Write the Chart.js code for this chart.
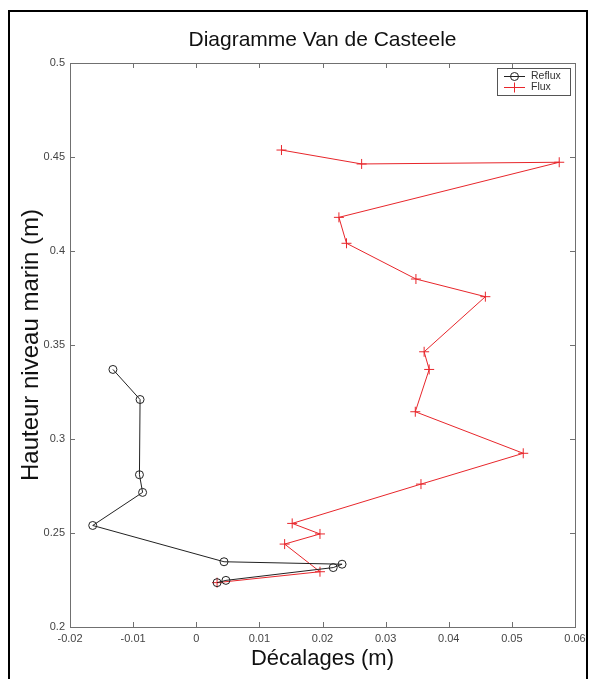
<!DOCTYPE html>
<html>
<head>
<meta charset="utf-8">
<script src="https://cdn.jsdelivr.net/npm/chart.js@4/dist/chart.umd.min.js"></script>
<style>
  html, body { margin: 0; padding: 0; background: #fff; }
  #wrap { width: 595px; height: 679px; }
</style>
</head>
<body>
<div id="wrap"><canvas id="chart" width="595" height="679"></canvas></div>
<script>
// values (x = décalage, y = hauteur)
const refluxX = [-0.0132, -0.0089, -0.0090, -0.0085, -0.0164, 0.0044, 0.0231, 0.0217, 0.0047, 0.0033];
const refluxY = [0.337, 0.321, 0.281, 0.2716, 0.254, 0.2347, 0.2334, 0.2316, 0.2248, 0.2236];

const fluxX = [0.0135, 0.0262, 0.0575, 0.0226, 0.0238, 0.0348, 0.0458, 0.0361, 0.0369, 0.0347, 0.0518, 0.0356, 0.0152, 0.0196, 0.0140, 0.0196, 0.0033];
const fluxY = [0.4537, 0.4463, 0.4472, 0.4179, 0.4041, 0.3851, 0.3757, 0.3464, 0.3370, 0.3145, 0.2924, 0.2760, 0.2551, 0.2495, 0.2441, 0.2294, 0.2236];

const xTicks = [-0.02, -0.01, 0, 0.01, 0.02, 0.03, 0.04, 0.05, 0.06];
const xTickLabels = ['-0.02', '-0.01', '0', '0.01', '0.02', '0.03', '0.04', '0.05', '0.06'];
const yTicks = [0.2, 0.25, 0.3, 0.35, 0.4, 0.45, 0.5];
const yTickLabels = ['0.2', '0.25', '0.3', '0.35', '0.4', '0.45', '0.5'];

const FONT = "'Liberation Sans', Arial, sans-serif";
const toPoints = (xs, ys) => xs.map((x, i) => ({ x, y: ys[i] }));

// white page + black frame around the figure
const framePlugin = {
  id: 'frame',
  beforeDraw(chart) {
    const ctx = chart.ctx;
    ctx.save();
    ctx.fillStyle = '#fff';
    ctx.fillRect(0, 0, chart.width, chart.height);
    ctx.strokeStyle = '#000';
    ctx.lineWidth = 2;
    ctx.beginPath();
    ctx.moveTo(9, chart.height + 2);
    ctx.lineTo(9, 11);
    ctx.lineTo(587, 11);
    ctx.lineTo(587, chart.height + 2);
    ctx.stroke();
    ctx.restore();
  },
  afterLayout(chart) {
    // centre the title over the axes, like matlab does
    if (chart.titleBlock) {
      chart.titleBlock.left = chart.chartArea.left;
      chart.titleBlock.right = chart.chartArea.right;
    }
  }
};

// matlab style box with inward ticks on all four sides
const boxPlugin = {
  id: 'axesBox',
  beforeDatasetsDraw(chart) {
    const { ctx, chartArea: a, scales } = chart;
    const len = 5;
    ctx.save();
    ctx.strokeStyle = '#707070';
    ctx.lineWidth = 1;
    ctx.strokeRect(a.left + 0.5, a.top + 0.5, a.right - a.left, a.bottom - a.top);
    ctx.beginPath();
    scales.x.ticks.forEach(t => {
      const px = Math.round(scales.x.getPixelForValue(t.value)) + 0.5;
      ctx.moveTo(px, a.bottom); ctx.lineTo(px, a.bottom - len);
      ctx.moveTo(px, a.top); ctx.lineTo(px, a.top + len);
    });
    scales.y.ticks.forEach(t => {
      const py = Math.round(scales.y.getPixelForValue(t.value)) + 0.5;
      ctx.moveTo(a.left, py); ctx.lineTo(a.left + len, py);
      ctx.moveTo(a.right, py); ctx.lineTo(a.right - len, py);
    });
    ctx.stroke();
    ctx.restore();
  }
};

// small boxed legend in the top right corner of the axes
const legendPlugin = {
  id: 'boxLegend',
  afterDraw(chart) {
    const { ctx, chartArea: a } = chart;
    const w = 73, h = 27;
    const x0 = a.right - w - 5, y0 = a.top + 5;
    ctx.save();
    ctx.fillStyle = '#fff';
    ctx.fillRect(x0, y0, w, h);
    ctx.strokeStyle = '#555';
    ctx.lineWidth = 1;
    ctx.strokeRect(x0 + 0.5, y0 + 0.5, w, h);
    ctx.font = '10.5px ' + FONT;
    ctx.textBaseline = 'middle';
    chart.data.datasets.forEach((ds, i) => {
      const y = y0 + 8.5 + i * 11;
      ctx.strokeStyle = ds.borderColor;
      ctx.lineWidth = 1;
      ctx.beginPath();
      ctx.moveTo(x0 + 7, y); ctx.lineTo(x0 + 28, y);
      ctx.stroke();
      ctx.fillStyle = 'rgba(0,0,0,0)';
      Chart.helpers.drawPoint(ctx, { pointStyle: ds.pointStyle, radius: ds.pointRadius, borderWidth: 1, rotation: 0 }, x0 + 17.5, y);
      ctx.fillStyle = '#333';
      ctx.fillText(ds.label, x0 + 34, y);
    });
    ctx.restore();
  }
};

new Chart(document.getElementById('chart'), {
  type: 'scatter',
  data: {
    datasets: [
      {
        label: 'Reflux',
        data: toPoints(refluxX, refluxY),
        showLine: true,
        borderColor: '#222',
        borderWidth: 1,
        pointStyle: 'circle',
        pointRadius: 4,
        pointBackgroundColor: 'rgba(0,0,0,0)',
        pointBorderColor: '#222',
        pointBorderWidth: 1
      },
      {
        label: 'Flux',
        data: toPoints(fluxX, fluxY),
        showLine: true,
        borderColor: '#e8262b',
        borderWidth: 1,
        pointStyle: 'cross',
        pointRadius: 5,
        pointBorderColor: '#e8262b',
        pointBorderWidth: 1
      }
    ]
  },
  options: {
    responsive: false,
    animation: false,
    layout: { padding: { left: 0, right: 20, top: 0, bottom: 0 } },
    plugins: {
      legend: { display: false },
      tooltip: { enabled: false },
      title: {
        display: true,
        text: 'Diagramme Van de Casteele',
        color: '#111',
        font: { family: FONT, size: 21, weight: 'normal' },
        padding: { top: 28, bottom: 9.8 }
      }
    },
    scales: {
      x: {
        type: 'linear',
        min: -0.02,
        max: 0.06,
        afterBuildTicks: s => { s.ticks = xTicks.map(v => ({ value: v })); },
        afterFit: s => { s.height = 52; },
        grid: { display: false, drawTicks: false },
        border: { display: false },
        ticks: {
          autoSkip: false,
          maxRotation: 0,
          padding: 5,
          color: '#444',
          font: { family: FONT, size: 11 },
          callback: (v, i) => xTickLabels[i]
        },
        title: {
          display: true,
          text: 'Décalages (m)',
          color: '#111',
          font: { family: FONT, size: 22 },
          padding: { top: 0, bottom: 7 }
        }
      },
      y: {
        type: 'linear',
        min: 0.2,
        max: 0.5,
        afterBuildTicks: s => { s.ticks = yTicks.map(v => ({ value: v })); },
        afterFit: s => { s.width = 70; },
        grid: { display: false, drawTicks: false },
        border: { display: false },
        ticks: {
          autoSkip: false,
          padding: 5,
          color: '#444',
          font: { family: FONT, size: 11 },
          callback: (v, i) => yTickLabels[i]
        },
        title: {
          display: true,
          text: 'Hauteur niveau marin (m)',
          color: '#111',
          font: { family: FONT, size: 24 },
          padding: { top: 17, bottom: 0 }
        }
      }
    }
  },
  plugins: [framePlugin, boxPlugin, legendPlugin]
});
</script>
</body>
</html>
